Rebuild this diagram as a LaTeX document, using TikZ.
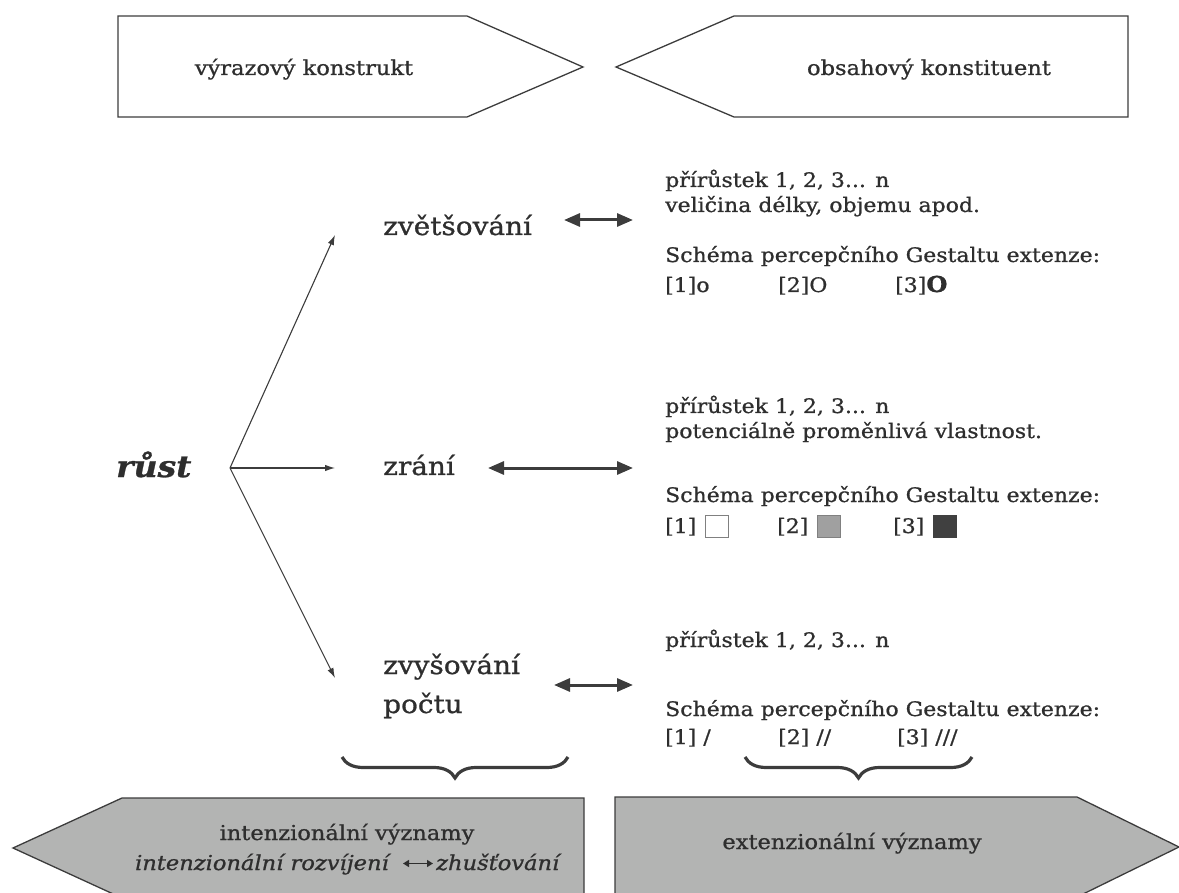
\documentclass[tikz,border=0pt]{standalone}
\usepackage{fontspec}
\setmainfont{DejaVu Serif}[FakeStretch=1.1, FakeBold=0.9]
\usetikzlibrary{arrows.meta,decorations.pathreplacing}
\definecolor{ink}{HTML}{2E2E2E}
\definecolor{edge}{HTML}{3C3C3C}
\definecolor{boxgray}{HTML}{B3B4B3}
\definecolor{midgray}{HTML}{A0A0A0}
\definecolor{darksq}{HTML}{404040}
\begin{document}
\begin{tikzpicture}[x=1pt,y=-1pt,
  boxline/.style={draw=edge, line width=1.3pt, line join=miter},
  smalltxt/.style={inner sep=0pt, text=ink, font=\fontsize{20}{24}\selectfont, anchor=base west},
  headtxt/.style={inner sep=0pt, text=ink, font=\fontsize{20.5}{24}\selectfont, anchor=base},
  bigtxt/.style={inner sep=0pt, text=ink, font=\fontsize{25.4}{30}\selectfont, anchor=base west},
  fanarrow/.style={draw=edge, line width=1.1pt, -{Latex[length=10pt,width=6.5pt]}},
  dblarrow/.style={draw=edge, line width=3pt, {Triangle[length=16pt,width=13pt]}-{Triangle[length=16pt,width=13pt]}},
  bracestyle/.style={draw=edge, line width=3.2pt, decorate, decoration={brace, mirror, amplitude=21pt}},
  sq/.style={line width=0.8pt, draw=gray}
]
\useasboundingbox (0,0) rectangle (1179,893);

% header pentagons
\draw[boxline, fill=white] (118,16) -- (467,16) -- (583,67) -- (467,117) -- (118,117) -- cycle;
\draw[boxline, fill=white] (1128,16) -- (734,16) -- (616,67) -- (734,117) -- (1128,117) -- cycle;
\node[headtxt] (hl) at (304,75) {výrazový konstrukt};
\node[headtxt] (hr) at (929,75) {obsahový konstituent};

% bottom pentagons
\draw[boxline, fill=boxgray] (584,798) -- (122,798) -- (13,848) -- (122,898) -- (584,898) -- cycle;
\draw[boxline, fill=boxgray] (615,797) -- (1077,797) -- (1179,847) -- (1077,897) -- (615,897) -- cycle;
\node[headtxt] (bl1) at (347,840) {intenzionální významy};
\node[inner sep=0pt, text=ink, font=\fontsize{20.5}{24}\selectfont\itshape, anchor=base east] (it1) at (389,870) {intenzionální rozvíjení};
\node[inner sep=0pt, text=ink, font=\fontsize{20.5}{24}\selectfont\itshape, anchor=base west] (it2) at (436,870) {zhušťování};
\draw[draw=ink, line width=1.3pt, {Triangle[length=6pt,width=7pt]}-{Triangle[length=6pt,width=7pt]}] ([xshift=14pt,yshift=6.5pt]it1.base east) -- ([xshift=-3pt,yshift=6.5pt]it2.base west);
\node[headtxt] (br1) at (852,849) {extenzionální významy};

% braces
\coordinate (b1a) at (342,757);
\coordinate (b1b) at (568,757);
\coordinate (b2a) at (745,757);
\coordinate (b2b) at (972,757);
\draw[bracestyle] (b1a) -- (b1b);
\draw[bracestyle] (b2a) -- (b2b);

% left part
\node[inner sep=0pt, text=ink, font=\fontsize{30}{34}\selectfont\bfseries\itshape, anchor=base west] (rust) at (116,477) {růst};
\coordinate (o) at (230,468);
\coordinate (e1) at (335,235);
\coordinate (e2) at (335,468);
\coordinate (e3) at (335,678);
\draw[fanarrow] (o) -- (e1);
\draw[fanarrow] (o) -- (e2);
\draw[fanarrow] (o) -- (e3);

\node[bigtxt] (zv) at (383,235) {zvětšování};
\node[bigtxt] (zr) at (383,475) {zrání};
\node[bigtxt] (zy) at (383,674) {zvyšování};
\node[bigtxt] (po) at (383,713) {počtu};

\coordinate (d1l) at (564,220); \coordinate (d1r) at (633,220);
\coordinate (d2l) at (488,468); \coordinate (d2r) at (633,468);
\coordinate (d3l) at (554,685); \coordinate (d3r) at (633,685);
\draw[dblarrow] (d1l) -- (d1r);
\draw[dblarrow] (d2l) -- (d2r);
\draw[dblarrow] (d3l) -- (d3r);

% right block 1
\node[smalltxt] (r1a) at (665,187) {přírůstek 1, 2, 3... n};
\node[smalltxt] (r1b) at (665,212) {veličina délky, objemu apod.};
\node[smalltxt] (r1c) at (665,262) {Schéma percepčního Gestaltu extenze:};
\node[smalltxt] (r1d) at (665,292) {[1]o};
\node[smalltxt] (r1e) at (778,292) {[2]O};
\node[smalltxt] (r1f) at (895,292) {[3]\textbf{\fontsize{22}{24}\selectfont O}};

% right block 2
\node[smalltxt] (r2a) at (665,413) {přírůstek 1, 2, 3... n};
\node[smalltxt] (r2b) at (665,438) {potenciálně proměnlivá vlastnost.};
\node[smalltxt] (r2c) at (665,502) {Schéma percepčního Gestaltu extenze:};
\node[smalltxt] (r2d) at (665,533) {[1]};
\node[smalltxt] (r2e) at (777,533) {[2]};
\node[smalltxt] (r2f) at (893,533) {[3]};
\draw[sq, fill=white] (705,515) rectangle (728,537);
\draw[sq, fill=midgray] (817,515) rectangle (840,537);
\draw[sq, draw=darksq, fill=darksq] (933,515) rectangle (956,537);

% right block 3
\node[smalltxt] (r3a) at (665,647) {přírůstek 1, 2, 3... n};
\node[smalltxt] (r3c) at (665,716) {Schéma percepčního Gestaltu extenze:};
\node[smalltxt] (r3d) at (665,744) {[1] /};
\node[smalltxt] (r3e) at (778,744) {[2] //};
\node[smalltxt] (r3f) at (897,744) {[3] ///};
\end{tikzpicture}
\end{document}
